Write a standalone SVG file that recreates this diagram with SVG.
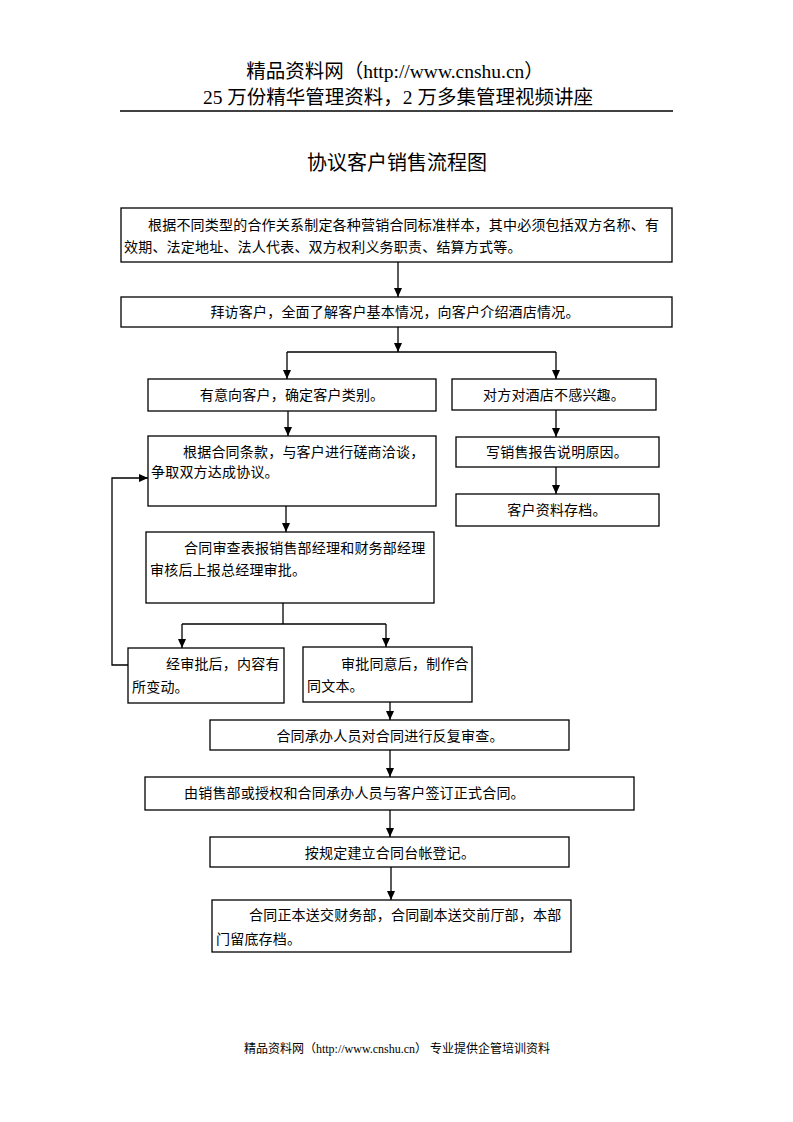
<svg xmlns="http://www.w3.org/2000/svg" width="793" height="1122" viewBox="0 0 793 1122">
<defs>
<marker id="ah" markerWidth="10" markerHeight="10" refX="9" refY="5" orient="auto" markerUnits="userSpaceOnUse">
<path d="M0,1 L9,5 L0,9 Z" fill="#000"/>
</marker>
<style>
.hd{font-family:"Liberation Serif","Noto Sans CJK SC",serif;font-size:19.5px;fill:#000}
.tt{font-family:"Noto Sans CJK SC",sans-serif;font-size:20px;fill:#000}
.t{font-family:"Liberation Serif","Noto Sans CJK SC",serif;font-size:14px;letter-spacing:0.2px;fill:#000}
.ft{font-family:"Liberation Serif","Noto Sans CJK SC",serif;font-size:12px;fill:#000}
.b{fill:#fff;stroke:#000;stroke-width:1.3}
.c{fill:none;stroke:#000;stroke-width:1.3}
.a{fill:none;stroke:#000;stroke-width:1.3;marker-end:url(#ah)}
</style>
</defs>
<rect width="793" height="1122" fill="#fff"/>
<g id="header">
<text class="hd" x="395" y="78" text-anchor="middle">精品资料网（http://www.cnshu.cn）</text>
<text class="hd" x="398" y="104" text-anchor="middle">25 万份精华管理资料，2 万多集管理视频讲座</text>
<line x1="120" y1="111" x2="673" y2="111" stroke="#000" stroke-width="1.3"/>
<text class="tt" x="397" y="170" text-anchor="middle">协议客户销售流程图</text>
</g>
<g id="connectors">
<line class="a" x1="398" y1="262" x2="398" y2="297"/>
<line class="a" x1="398" y1="327" x2="398" y2="352"/>
<line class="c" x1="287" y1="352" x2="556" y2="352"/>
<line class="a" x1="287" y1="352" x2="287" y2="379"/>
<line class="a" x1="556" y1="352" x2="556" y2="379"/>
<line class="a" x1="288" y1="411" x2="288" y2="436"/>
<line class="a" x1="556" y1="410" x2="556" y2="437"/>
<line class="a" x1="556" y1="467" x2="556" y2="494"/>
<line class="a" x1="286" y1="506" x2="286" y2="532"/>
<line class="c" x1="283" y1="603" x2="283" y2="624"/>
<line class="c" x1="182" y1="624" x2="386" y2="624"/>
<line class="a" x1="182" y1="624" x2="182" y2="648"/>
<line class="a" x1="386" y1="624" x2="386" y2="647"/>
<polyline class="a" points="128,665 112,665 112,478 148,478"/>
<line class="a" x1="390" y1="702" x2="390" y2="720"/>
<line class="a" x1="390" y1="750" x2="390" y2="777"/>
<line class="a" x1="390" y1="810" x2="390" y2="837"/>
<line class="a" x1="391" y1="867" x2="391" y2="900"/>
</g>
<g id="n1">
<rect class="b" x="121" y="208" width="551" height="54"/>
<text class="t" x="148" y="230" letter-spacing="0.5">根据不同类型的合作关系制定各种营销合同标准样本，其中必须包括双方名称、有</text>
<text class="t" x="124" y="252" letter-spacing="0.5">效期、法定地址、法人代表、双方权利义务职责、结算方式等。</text>
</g>
<g id="n2">
<rect class="b" x="121" y="297" width="551" height="30"/>
<text class="t" x="395" y="317" text-anchor="middle">拜访客户，全面了解客户基本情况，向客户介绍酒店情况。</text>
</g>
<g id="n3">
<rect class="b" x="148" y="379" width="288" height="32"/>
<text class="t" x="292" y="400" text-anchor="middle">有意向客户，确定客户类别。</text>
</g>
<g id="n4">
<rect class="b" x="452" y="379" width="204" height="31"/>
<text class="t" x="554" y="400" text-anchor="middle">对方对酒店不感兴趣。</text>
</g>
<g id="n5">
<rect class="b" x="148" y="436" width="288" height="70"/>
<text class="t" x="183" y="457">根据合同条款，与客户进行磋商洽谈，</text>
<text class="t" x="151" y="477">争取双方达成协议。</text>
</g>
<g id="n6">
<rect class="b" x="456" y="437" width="203" height="30"/>
<text class="t" x="557" y="457" text-anchor="middle">写销售报告说明原因。</text>
</g>
<g id="n7">
<rect class="b" x="456" y="494" width="203" height="32"/>
<text class="t" x="557" y="515" text-anchor="middle">客户资料存档。</text>
</g>
<g id="n8">
<rect class="b" x="146" y="532" width="288" height="71"/>
<text class="t" x="184" y="553">合同审查表报销售部经理和财务部经理</text>
<text class="t" x="150" y="575">审核后上报总经理审批。</text>
</g>
<g id="n9">
<rect class="b" x="128" y="648" width="156" height="55"/>
<text class="t" x="166" y="669">经审批后，内容有</text>
<text class="t" x="132" y="692">所变动。</text>
</g>
<g id="n10">
<rect class="b" x="303" y="647" width="169" height="55"/>
<text class="t" x="341" y="669">审批同意后，制作合</text>
<text class="t" x="307" y="691">同文本。</text>
</g>
<g id="n11">
<rect class="b" x="210" y="720" width="359" height="30"/>
<text class="t" x="390" y="741" text-anchor="middle">合同承办人员对合同进行反复审查。</text>
</g>
<g id="n12">
<rect class="b" x="145" y="777" width="489" height="33"/>
<text class="t" x="184" y="798">由销售部或授权和合同承办人员与客户签订正式合同。</text>
</g>
<g id="n13">
<rect class="b" x="210" y="837" width="359" height="30"/>
<text class="t" x="390" y="858" text-anchor="middle">按规定建立合同台帐登记。</text>
</g>
<g id="n14">
<rect class="b" x="212" y="900" width="359" height="52"/>
<text class="t" x="249" y="920">合同正本送交财务部，合同副本送交前厅部，本部</text>
<text class="t" x="216" y="944">门留底存档。</text>
</g>
<g id="footer">
<text class="ft" x="397" y="1053" text-anchor="middle">精品资料网（http://www.cnshu.cn）  专业提供企管培训资料</text>
</g>
</svg>
